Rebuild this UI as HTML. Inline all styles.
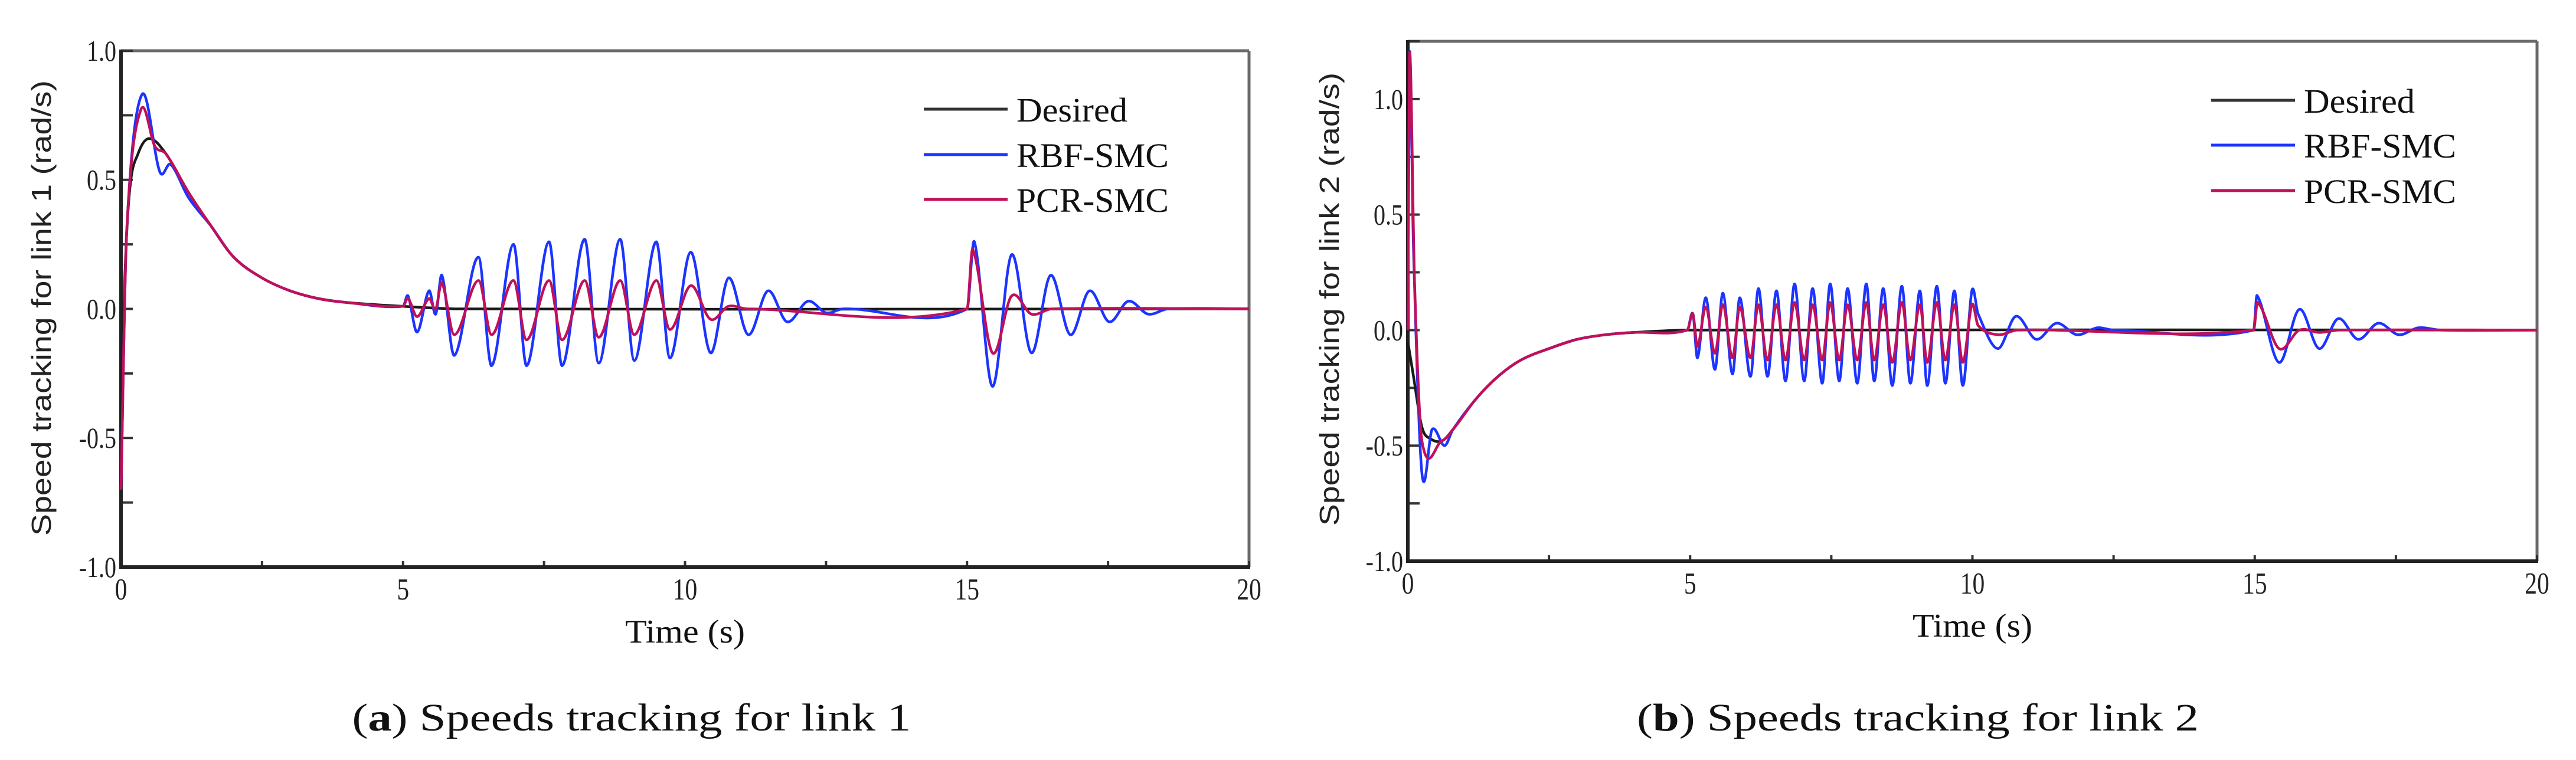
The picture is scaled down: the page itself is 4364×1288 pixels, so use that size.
<!DOCTYPE html>
<html><head><meta charset="utf-8"><style>
html,body{margin:0;padding:0;background:#fff;}
svg{display:block;}
</style></head><body>
<svg id="fig" xmlns="http://www.w3.org/2000/svg" width="4364" height="1288" viewBox="0 0 4364 1288"></svg>
<script>
// ---- Panel (a): link 1 ----
const l1DesT = [0,0.05,0.15,0.3,0.5,0.8,1.2,1.6,2,2.5,3,3.5,4,5,6,20];
const l1DesV = [-0.7,0,0.45,0.6,0.66,0.6,0.45,0.32,0.2,0.12,0.07,0.04,0.025,0.01,0,0];
const l1RbfT = [0,0.1,0.37,0.69,0.88,1.2,1.6,2,2.5,3,3.5,4,5,5.09,5.25,5.46,5.58,5.69,5.91,6.34,6.57,6.96,7.19,7.59,7.82,8.22,8.47,8.85,9.10,9.49,9.73,10.10,10.45,10.77,11.12,11.47,11.81,12.18,12.50,12.8,15.0,15.13,15.45,15.79,16.14,16.48,16.83,17.17,17.52,17.86,18.21,18.56,20];
const l1RbfV = [-0.7,0.3,0.83,0.53,0.56,0.43,0.32,0.2,0.12,0.07,0.04,0.025,0.01,0.05,-0.09,0.07,-0.02,0.13,-0.18,0.2,-0.22,0.25,-0.22,0.26,-0.22,0.27,-0.21,0.27,-0.2,0.26,-0.19,0.22,-0.17,0.12,-0.1,0.07,-0.05,0.03,-0.015,0,0,0.26,-0.3,0.21,-0.17,0.13,-0.1,0.07,-0.05,0.03,-0.02,0,0];
const l1PcrT = [0,0.1,0.35,0.6,0.8,1.2,1.6,2,2.5,3,3.5,4,5,5.09,5.25,5.46,5.58,5.69,5.91,6.34,6.57,6.96,7.19,7.59,7.82,8.22,8.47,8.85,9.10,9.49,9.73,10.10,10.45,10.77,11.1,15.0,15.1,15.45,15.79,16.14,16.5,20];
const l1PcrV = [-0.7,0.3,0.77,0.63,0.6,0.45,0.32,0.2,0.12,0.07,0.04,0.025,0.01,0.04,-0.03,0.04,0,0.1,-0.1,0.11,-0.1,0.11,-0.12,0.11,-0.12,0.11,-0.11,0.11,-0.1,0.11,-0.08,0.09,-0.04,0.01,0,0,0.23,-0.17,0.05,-0.02,0,0];
// ---- Panel (b): link 2 ----
const l2DesT = [0,0.1,0.25,0.4,0.6,0.8,1.2,1.6,2,2.5,3,3.5,4,5,20];
const l2DesV = [-0.05,-0.2,-0.42,-0.47,-0.48,-0.43,-0.3,-0.2,-0.13,-0.08,-0.04,-0.02,-0.01,0,0];
const l2RbfT = [0,0.03,0.1,0.25,0.43,0.65,0.8,1.2,1.6,2,2.5,3,3.5,4,4.95,5.05,5.13,5.28,5.44,5.58,5.75,5.88,6.07,6.21,6.37,6.53,6.69,6.85,7.02,7.17,7.34,7.48,7.64,7.79,7.96,8.12,8.26,8.42,8.58,8.75,8.90,9.07,9.20,9.37,9.52,9.68,9.83,9.99,10.1,10.45,10.77,11.13,11.49,11.85,12.21,12.5,14.98,15.04,15.43,15.79,16.14,16.48,16.83,17.19,17.55,17.9,18.3,20];
const l2RbfV = [0,1.2,0.35,-0.62,-0.43,-0.5,-0.43,-0.3,-0.2,-0.13,-0.08,-0.04,-0.02,-0.01,0,0.07,-0.12,0.14,-0.17,0.16,-0.19,0.14,-0.2,0.18,-0.2,0.17,-0.22,0.2,-0.22,0.18,-0.23,0.2,-0.22,0.18,-0.23,0.2,-0.22,0.18,-0.24,0.19,-0.23,0.17,-0.24,0.19,-0.23,0.17,-0.24,0.17,0.07,-0.08,0.06,-0.04,0.03,-0.02,0.01,0,0,0.15,-0.14,0.09,-0.08,0.05,-0.04,0.03,-0.02,0.01,0,0];
const l2PcrT = [0,0.03,0.12,0.25,0.6,0.8,1.2,1.6,2,2.5,3,3.5,4,4.95,5.05,5.13,5.28,5.44,5.58,5.75,5.88,6.07,6.21,6.37,6.53,6.69,6.85,7.02,7.17,7.34,7.48,7.64,7.79,7.96,8.12,8.26,8.42,8.58,8.75,8.90,9.07,9.20,9.37,9.52,9.68,9.83,9.99,10.1,10.45,10.8,14.98,15.05,15.43,15.79,16.14,16.5,20];
const l2PcrV = [0,1.2,0.2,-0.48,-0.48,-0.43,-0.3,-0.2,-0.13,-0.08,-0.04,-0.02,-0.01,0,0.07,-0.07,0.1,-0.1,0.11,-0.12,0.1,-0.12,0.11,-0.13,0.11,-0.13,0.12,-0.13,0.11,-0.13,0.12,-0.13,0.11,-0.13,0.12,-0.13,0.11,-0.14,0.12,-0.13,0.11,-0.14,0.12,-0.13,0.11,-0.14,0.11,0.02,-0.02,0,0,0.12,-0.08,0,-0.01,0,0];
const xTickLabels = ["0","5","10","15","20"];
const xTickValues = [0,5,10,15,20];
const l1YTickValues = [-1,-0.5,0,0.5,1];
const l1YTickLabels = ["-1.0","-0.5","0.0","0.5","1.0"];
const l2YTickValues = [-1,-0.5,0,0.5,1];
const l2YTickLabels = ["-1.0","-0.5","0.0","0.5","1.0"];
const legendLabels = ["Desired","RBF-SMC","PCR-SMC"];

const NS = "http://www.w3.org/2000/svg";
const svg = document.getElementById('fig');
function mk(tag, attrs, parent){
  const e = document.createElementNS(NS, tag);
  for (const k in attrs) e.setAttribute(k, attrs[k]);
  (parent||svg).appendChild(e);
  return e;
}
function smoothPath(pts){
  const n = pts.length;
  const m = pts.map((p,i)=>{
    const a = pts[Math.max(0,i-1)], b = pts[Math.min(n-1,i+1)];
    const dx = b[0]-a[0];
    return dx === 0 ? 0 : (b[1]-a[1])/dx;
  });
  let d = "M" + pts[0][0].toFixed(1) + "," + pts[0][1].toFixed(1);
  for (let i=0;i<n-1;i++){
    const p1 = pts[i], p2 = pts[i+1];
    const h = (p2[0]-p1[0])/3;
    const c1 = [p1[0]+h, p1[1]+m[i]*h];
    const c2 = [p2[0]-h, p2[1]-m[i+1]*h];
    d += " C"+c1[0].toFixed(1)+","+c1[1].toFixed(1)+" "+c2[0].toFixed(1)+","+c2[1].toFixed(1)+" "+p2[0].toFixed(1)+","+p2[1].toFixed(1);
  }
  return d;
}
function panel(cfg){
  const g = mk('g', {});
  
  
  const X = t => cfg.x0 + (t - 0) / 20 * (cfg.x1 - cfg.x0);
  const Y = v => cfg.y1 - (v - cfg.vmin) / (cfg.vmax - cfg.vmin) * (cfg.y1 - cfg.y0);
  const top = mk('line', {x1:cfg.x0, y1:cfg.y0, x2:cfg.x1, y2:cfg.y0, stroke:'#6a6a6a', 'stroke-width':5}, g);
  
  
  const rt = mk('line', {x1:cfg.x1, y1:cfg.y0, x2:cfg.x1, y2:cfg.y1, stroke:'#6a6a6a', 'stroke-width':5}, g);
  
  
  for (let t=0; t<=20; t+=2.5){
    const tk = mk('line', {x1:X(t), y1:cfg.y1, x2:X(t), y2:cfg.y1-10, stroke:'#333', 'stroke-width':4}, g);
    
    
  }
  for (let v=-1; v<=cfg.vmax+0.001; v+=0.25){
    const tk = mk('line', {x1:cfg.x0, y1:Y(v), x2:cfg.x0+20, y2:Y(v), stroke:'#333', 'stroke-width':4}, g);
    
    
  }
  const lf = mk('line', {x1:cfg.x0, y1:cfg.y0-2, x2:cfg.x0, y2:cfg.y1+3, stroke:'#222', 'stroke-width':6}, g);
  
  
  const bt = mk('line', {x1:cfg.x0-3, y1:cfg.y1, x2:cfg.x1+2, y2:cfg.y1, stroke:'#222', 'stroke-width':6}, g);
  
  
  xTickValues.forEach((t,i)=>{
    const tx = mk('text', {x:X(t), y:cfg.y1+55, 'text-anchor':'middle', 'font-family':'Liberation Serif, serif', 'font-size':52, fill:'#222', transform:'translate('+X(t)+',0) scale(0.8,1) translate('+(-X(t))+',0)'}, g);
    tx.textContent = xTickLabels[i];
    
    
  });
  cfg.yv.forEach((v,i)=>{
    const xr = cfg.x0 - 8;
    const tx = mk('text', {x:xr, y:Y(v)+17, 'text-anchor':'end', 'font-family':'Liberation Serif, serif', 'font-size':50, fill:'#222', transform:'translate('+xr+',0) scale(0.8,1) translate('+(-xr)+',0)'}, g);
    tx.textContent = cfg.yl[i];
    
    
  });
  const series = [
    {T:cfg.desT, V:cfg.desV, c:'#1a1a1a', n:'desired-line'},
    {T:cfg.rbfT, V:cfg.rbfV, c:'#1c34ff', n:'rbf-smc-line'},
    {T:cfg.pcrT, V:cfg.pcrV, c:'#c0105a', n:'pcr-smc-line'}
  ];
  series.forEach(s=>{
    const pts = s.T.map((t,i)=>[X(t), Y(s.V[i])]);
    const p = mk('path', {d:smoothPath(pts), fill:'none', stroke:s.c, 'stroke-width':4.5, 'stroke-linejoin':'round'}, g);
    
    
  });
  const lc = ['#333','#1c34ff','#c0105a'];
  legendLabels.forEach((lab,i)=>{
    const ly = cfg.legY[i];
    const ln = mk('line', {x1:cfg.legX, y1:ly, x2:cfg.legX+142, y2:ly, stroke:lc[i], 'stroke-width':5}, g);
    
    
    const tx = mk('text', {x:cfg.legX+157, y:ly+21, 'font-family':'Liberation Serif, serif', 'font-size':58, fill:'#111', textLength:[188,258,258][i], lengthAdjust:'spacingAndGlyphs'}, g);
    tx.textContent = lab;
    
    
  });
  const xt = mk('text', {x:(cfg.x0+cfg.x1)/2, y:cfg.y1+128, 'text-anchor':'middle', 'font-family':'Liberation Serif, serif', 'font-size':56, fill:'#111', textLength:203, lengthAdjust:'spacingAndGlyphs'}, g);
  xt.textContent = 'Time (s)';
  
  
  const yc = cfg.yTitle;
  const yt = mk('text', {x:yc[0], y:yc[1], 'text-anchor':'middle', 'font-family':'Liberation Sans, sans-serif', 'font-size':46, fill:'#222', transform:'rotate(-90 '+yc[0]+' '+yc[1]+')', textLength:yc[2], lengthAdjust:'spacingAndGlyphs'}, g);
  yt.textContent = cfg.yTitleText;
  
  
  const cap = mk('text', {x:cfg.capX, y:1238, 'text-anchor':'middle', 'font-family':'Liberation Serif, serif', 'font-size':66, fill:'#111', textLength:cfg.capW, lengthAdjust:'spacingAndGlyphs'}, g);
  
  
  const t1 = mk('tspan', {}, cap); t1.textContent = '(';
  const t2 = mk('tspan', {'font-weight':'bold'}, cap); t2.textContent = cfg.capLetter;
  const t3 = mk('tspan', {}, cap); t3.textContent = ') ' + cfg.capText;
}
panel({name:'chart-link-1', x0:205, x1:2116, y0:86, y1:961, vmin:-1, vmax:1,
  desT:l1DesT, desV:l1DesV, rbfT:l1RbfT, rbfV:l1RbfV, pcrT:l1PcrT, pcrV:l1PcrV,
  yv:l1YTickValues, yl:l1YTickLabels, legX:1565, legY:[185,262,338],
  yTitle:[86,522,772], yTitleText:'Speed tracking for link 1 (rad/s)',
  capX:1070, capW:947, capLetter:'a', capText:'Speeds tracking for link 1'});
panel({name:'chart-link-2', x0:2385, x1:4298, y0:70, y1:951, vmin:-1, vmax:1.25,
  desT:l2DesT, desV:l2DesV, rbfT:l2RbfT, rbfV:l2RbfV, pcrT:l2PcrT, pcrV:l2PcrV,
  yv:l2YTickValues, yl:l2YTickLabels, legX:3746, legY:[170,246,323],
  yTitle:[2268,507,768], yTitleText:'Speed tracking for link 2 (rad/s)',
  capX:3249, capW:952, capLetter:'b', capText:'Speeds tracking for link 2'});
</script>
</body></html>
